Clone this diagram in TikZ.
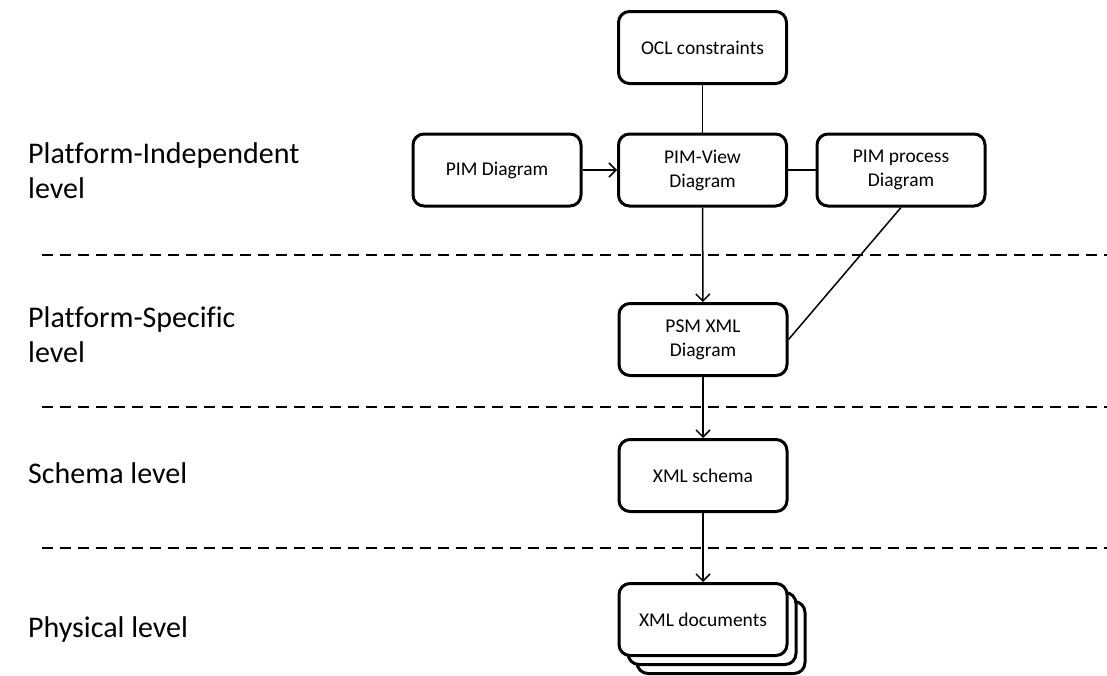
\documentclass[tikz,border=0pt]{standalone}
\usepackage{fontspec}
\setmainfont{Carlito}[Ligatures=NoCommon]
\usetikzlibrary{arrows.meta}
\newcommand{\twolines}[2]{\vtop{\hbox{#1}\hbox{#2}}}
\begin{document}
\begin{tikzpicture}[x=1pt,y=-1pt,
  stage/.style={draw, line width=3pt, rounded corners=11pt,
    minimum width=168pt, minimum height=72pt, align=center,
    font=\fontsize{19.5}{24}\selectfont, fill=white, inner sep=2pt},
  flow/.style={line width=1.5pt},
  feed/.style={flow, -{Straight Barb[length=7pt,width=14pt]}},
  divider/.style={line width=2pt, dash pattern=on 11pt off 7pt},
  levelname/.style={anchor=base west, inner sep=0pt,
    font=\fontsize{30}{35}\selectfont}]
\useasboundingbox (0,0) rectangle (1107,675);

% level separators
\coordinate (d1a) at (42,255);   \coordinate (d1b) at (1107,255);
\coordinate (d2a) at (42,407);   \coordinate (d2b) at (1107,407);
\coordinate (d3a) at (42,548);   \coordinate (d3b) at (1107,548);
\draw[divider] (d1a) -- (d1b);
\draw[divider] (d2a) -- (d2b);
\draw[divider] (d3a) -- (d3b);

% level names
\node[levelname] (lpi) at (28,163) {\twolines{Platform-Independent}{level}};
\node[levelname] (lps) at (28,327) {\twolines{Platform-Specific}{level}};
\node[levelname] (lsc) at (28,483) {Schema level};
\node[levelname] (lph) at (28,637) {Physical level};

% models
\node[stage] (ocl)  at (702.5,47.5) {OCL constraints};
\node[stage] (pim)  at (497,170)    {PIM Diagram};
\node[stage] (view) at (702.5,170)  {PIM-View\\Diagram};
\node[stage] (proc) at (901,170)    {PIM process\\Diagram};
\node[stage] (psm)  at (703,339.5)  {PSM XML\\Diagram};
\node[stage] (xsd)  at (703,475.5)  {XML schema};
\node[stage] (doc3) at (721,637.5)  {};
\node[stage] (doc2) at (712,628.5)  {};
\node[stage] (docs) at (703,619.5)  {XML documents};

% connectors
\draw[flow] (ocl) -- (view);
\draw[feed] (pim) -- (view);
\draw[flow] (view) -- (proc);
\draw[feed] (view) -- (psm);
\draw[flow] (proc.south) -- (psm.east);
\draw[feed] (psm) -- (xsd);
\draw[feed] (xsd) -- (docs);
\end{tikzpicture}
\end{document}
